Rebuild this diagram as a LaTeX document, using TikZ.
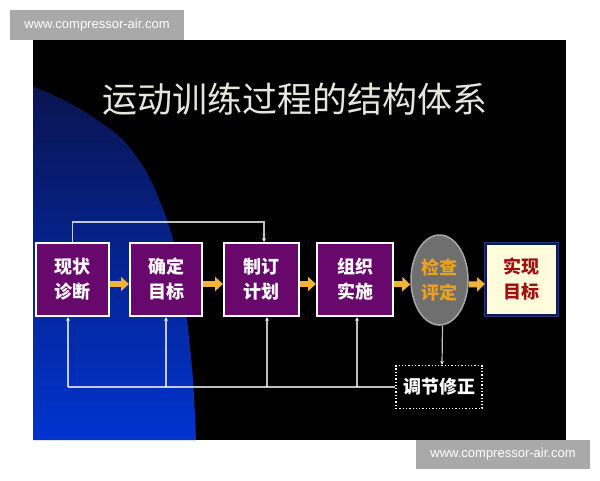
\documentclass[tikz,border=0pt]{standalone}
\usepackage{fontspec}
\setmainfont{Liberation Sans}
\newfontfamily\cjk{Noto Sans CJK SC}
\usetikzlibrary{arrows.meta,shapes.geometric}
\definecolor{wmgray}{HTML}{A9A9A9}
\definecolor{navytop}{HTML}{0A1450}
\definecolor{bluemid}{HTML}{0A2AAE}
\definecolor{bluebot}{HTML}{0034D0}
\definecolor{procpurple}{RGB}{104,8,108}
\definecolor{arroworange}{HTML}{F2B33A}
\definecolor{evalgray}{HTML}{6F6F6F}
\definecolor{evalborder}{HTML}{A8A8A8}
\definecolor{evaltext}{HTML}{E8A21C}
\definecolor{goalfill}{HTML}{FFFCDC}
\definecolor{goalborder}{HTML}{0C1A58}
\definecolor{goalglow}{HTML}{4060C0}
\definecolor{goaltext}{HTML}{A01010}
\definecolor{titlecol}{HTML}{E6E6DC}
\begin{document}
\begin{tikzpicture}[x=1pt,y=-1pt,
  wm/.style={fill=wmgray, text=white, inner sep=0pt, minimum width=174pt, minimum height=30pt, font=\fontsize{13}{15}\selectfont},
  titletext/.style={text=titlecol, inner sep=0pt, font=\cjk\fontsize{35}{38}\selectfont},
  procbox/.style={draw=white, line width=2pt, fill=procpurple, text=white, inner sep=0pt, minimum height=73pt, align=center, font=\cjk\bfseries\fontsize{18}{25}\selectfont},
  evalnode/.style={ellipse, fill=evalgray, draw=evalborder, line width=1.5pt, text=evaltext, inner sep=0pt, minimum width=57pt, minimum height=90pt, align=center, font=\cjk\bfseries\fontsize{18}{25}\selectfont},
  goalbox/.style={preaction={draw=goalglow, line width=4.5pt, opacity=0.6}, draw=goalborder, line width=2pt, fill=goalfill, text=goaltext, inner sep=0pt, minimum width=71pt, minimum height=71pt, align=center, font=\cjk\bfseries\fontsize{18}{25}\selectfont},
  fixbox/.style={draw=white, dotted, line width=1.3pt, text=white, inner sep=0pt, minimum width=86pt, minimum height=43pt, font=\cjk\bfseries\fontsize{18}{22}\selectfont},
  oarrow/.style={draw=arroworange, line width=6pt, -{Triangle[length=8pt,width=14pt]}},
  fb/.style={draw=white, draw opacity=0.75, line width=1.2pt},
  fbarrow/.style={fb, -{Stealth[length=4pt,width=4pt]}}
]
\useasboundingbox (0,0) rectangle (600,480);
\fill[white] (0,0) rectangle (600,480);
\fill[black] (33,40) rectangle (566,440);
% blue glow on the left
\shade[top color=navytop, middle color=bluemid, bottom color=bluebot]
  plot[smooth] coordinates {(33,86) (55,96) (77,107) (100,122) (123,140) (147,173) (167,220) (180,270) (187,320) (193,380) (196,440)}
  -- (33,440) -- cycle;

% watermarks
\node[wm] (wm1) at (97,25) {www.compressor-air.com};
\node[wm, minimum height=29pt] (wm2) at (503,454.5) {www.compressor-air.com};

% title
\node[titletext] (title) at (295,99) {运动训练过程的结构体系};

% process boxes
\node[procbox, minimum width=73pt] (b1) at (72.5,279.5) {现状\\诊断};
\node[procbox, minimum width=72pt] (b2) at (166,279.5) {确定\\目标};
\node[procbox, minimum width=75pt] (b3) at (261.5,279.5) {制订\\计划};
\node[procbox, minimum width=76pt] (b4) at (355,279.5) {组织\\实施};
\node[evalnode] (ev) at (439.5,280) {检查\\评定};
\node[goalbox] (goal) at (521.5,279.5) {实现\\目标};
\node[fixbox] (fix) at (439,387) {调节修正};

% orange flow arrows
\draw[oarrow] ([yshift=-4.5pt]b1.east) -- ([yshift=-4.5pt]b2.west);
\draw[oarrow] ([yshift=-4.5pt]b2.east) -- ([yshift=-4.5pt]b3.west);
\draw[oarrow] ([yshift=-4.5pt]b3.east) -- ([yshift=-4.5pt]b4.west);
\draw[oarrow] ([yshift=-4.5pt]b4.east) -- ([yshift=-4.5pt]ev.west);
\draw[oarrow] ([yshift=-4.5pt]ev.east) -- ([yshift=-4.5pt]goal.west);

% top feedback line
\draw[fbarrow] (b1.north) -- ++(0,-20) -| ([xshift=2.5pt]b3.north);

% evaluation to adjustment
\draw[fbarrow] ([xshift=3pt]ev.south) -- ([xshift=3pt]fix.north);

% bottom feedback lines
\coordinate (j1) at (68,387);
\coordinate (j2) at (166,387);
\coordinate (j3) at (267,387);
\coordinate (j4) at (357,387);
\draw[fb] (fix.west) -- (j1);
\draw[fbarrow] (j1) -- (j1 |- b1.south);
\draw[fbarrow] (j2) -- (j2 |- b2.south);
\draw[fbarrow] (j3) -- (j3 |- b3.south);
\draw[fbarrow] (j4) -- (j4 |- b4.south);
\end{tikzpicture}
\end{document}
